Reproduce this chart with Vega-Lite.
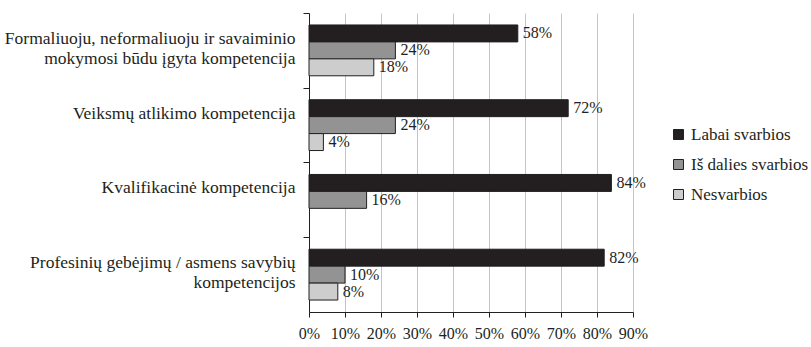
{
  "$schema": "https://vega.github.io/schema/vega-lite/v6.json",
  "width": 324,
  "height": 299,
  "autosize": {"type": "none"},
  "padding": {"left": 309, "top": 13, "right": 178, "bottom": 35},
  "background": "white",
  "config": {
    "font": "'Liberation Serif', 'Times New Roman', 'DejaVu Serif', serif",
    "view": {"stroke": null},
    "axis": {"labelFont": "'Liberation Serif', 'Times New Roman', 'DejaVu Serif', serif"},
    "legend": {"labelFont": "'Liberation Serif', 'Times New Roman', 'DejaVu Serif', serif"},
    "text": {"font": "'Liberation Serif', 'Times New Roman', 'DejaVu Serif', serif"}
  },
  "data": {
    "values": [
      {"category": "Formaliuoju, neformaliuoju ir savaiminio|mokymosi būdu įgyta kompetencija", "series": "Labai svarbios", "share": 0.58},
      {"category": "Formaliuoju, neformaliuoju ir savaiminio|mokymosi būdu įgyta kompetencija", "series": "Iš dalies svarbios", "share": 0.24},
      {"category": "Formaliuoju, neformaliuoju ir savaiminio|mokymosi būdu įgyta kompetencija", "series": "Nesvarbios", "share": 0.18},
      {"category": "Veiksmų atlikimo kompetencija", "series": "Labai svarbios", "share": 0.72},
      {"category": "Veiksmų atlikimo kompetencija", "series": "Iš dalies svarbios", "share": 0.24},
      {"category": "Veiksmų atlikimo kompetencija", "series": "Nesvarbios", "share": 0.04},
      {"category": "Kvalifikacinė kompetencija", "series": "Labai svarbios", "share": 0.84},
      {"category": "Kvalifikacinė kompetencija", "series": "Iš dalies svarbios", "share": 0.16},
      {"category": "Profesinių gebėjimų / asmens savybių|kompetencijos", "series": "Labai svarbios", "share": 0.82},
      {"category": "Profesinių gebėjimų / asmens savybių|kompetencijos", "series": "Iš dalies svarbios", "share": 0.10},
      {"category": "Profesinių gebėjimų / asmens savybių|kompetencijos", "series": "Nesvarbios", "share": 0.08}
    ]
  },
  "encoding": {
    "y": {
      "field": "category",
      "type": "nominal",
      "sort": [
        "Formaliuoju, neformaliuoju ir savaiminio|mokymosi būdu įgyta kompetencija",
        "Veiksmų atlikimo kompetencija",
        "Kvalifikacinė kompetencija",
        "Profesinių gebėjimų / asmens savybių|kompetencijos"
      ],
      "scale": {"paddingInner": 0.32, "paddingOuter": 0.16},
      "axis": {
        "title": null,
        "labelExpr": "split(datum.label, '|')",
        "labelFontSize": 17.5,
        "labelLineHeight": 20,
        "labelColor": "#231f20",
        "labelPadding": 8,
        "labelLimit": 0,
        "bandPosition": 0,
        "tickOffset": -12,
        "tickSize": 6,
        "tickColor": "#231f20",
        "domainColor": "#231f20",
        "grid": false
      }
    },
    "yOffset": {
      "field": "series",
      "type": "nominal",
      "scale": {
        "domain": ["Labai svarbios", "Iš dalies svarbios", "Nesvarbios"],
        "paddingInner": 0,
        "paddingOuter": 0
      }
    },
    "x": {
      "field": "share",
      "type": "quantitative",
      "scale": {"domain": [0, 0.9], "nice": false},
      "axis": {
        "title": null,
        "format": ".0%",
        "values": [0, 0.1, 0.2, 0.3, 0.4, 0.5, 0.6, 0.7, 0.8, 0.9],
        "labelFontSize": 16,
        "labelColor": "#231f20",
        "labelPadding": 8,
        "labelFlush": false,
        "labelOverlap": false,
        "tickSize": 5,
        "tickColor": "#231f20",
        "domainColor": "#231f20",
        "grid": true,
        "gridColor": "#c4c4c4",
        "gridWidth": 1
      }
    }
  },
  "layer": [
    {
      "mark": {"type": "bar", "stroke": "#231f20", "strokeWidth": 1},
      "encoding": {
        "color": {
          "field": "series",
          "type": "nominal",
          "scale": {
            "domain": ["Labai svarbios", "Iš dalies svarbios", "Nesvarbios"],
            "range": ["#231f20", "#939393", "#cdcdcd"]
          },
          "legend": {
            "orient": "none",
            "legendX": 361,
            "legendY": 113,
            "title": null,
            "symbolType": "square",
            "symbolSize": 100,
            "symbolStrokeColor": "#231f20",
            "symbolStrokeWidth": 1,
            "symbolOpacity": 1,
            "labelFontSize": 17,
            "labelColor": "#231f20",
            "labelOffset": 4,
            "labelLimit": 0,
            "rowPadding": 12
          }
        }
      }
    },
    {
      "mark": {"type": "text", "align": "left", "baseline": "middle", "dx": 5, "fontSize": 16, "color": "#231f20"},
      "encoding": {
        "text": {"field": "share", "type": "quantitative", "format": ".0%"}
      }
    }
  ]
}
